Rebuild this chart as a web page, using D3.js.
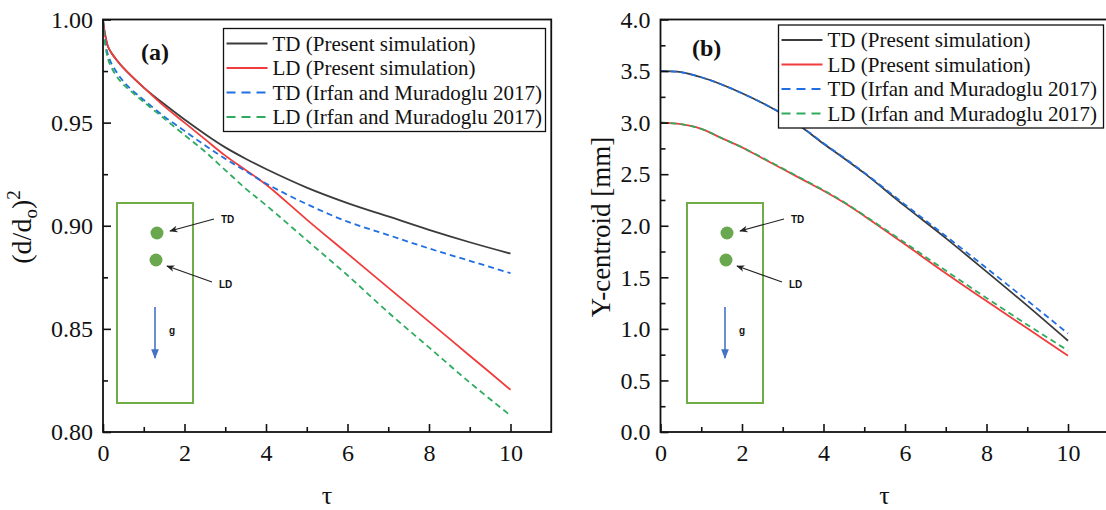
<!DOCTYPE html>
<html>
<head>
<meta charset="utf-8">
<script src="https://cdn.jsdelivr.net/npm/d3@7"></script>
<style>
  body { margin: 0; background: #fff; }
  svg { display: block; }
  text { font-family: "Liberation Serif", "Times New Roman", serif; fill: #111; }
  .note { font-family: "Liberation Sans", Arial, sans-serif; font-weight: bold; font-size: 10px; }
</style>
</head>
<body>
<svg id="chart" width="1106" height="510"></svg>
<script>
// series names (legend), same for both panels
var seriesNames = ["TD (Present simulation)", "LD (Present simulation)",
                   "TD (Irfan and Muradoglu 2017)", "LD (Irfan and Muradoglu 2017)"];
var seriesColors = ["#3b3b3b", "#f03c3c", "#1f6fe0", "#2fab5f"];
var seriesDashed = [false, false, true, true];

// panel (a): (d/do)^2 vs tau
var tauA   = [0, 0.04, 0.12, 0.2, 0.35, 0.5, 0.7, 1, 1.5, 2, 2.5, 3, 3.5, 4, 5, 6, 7, 8, 9, 10];
var tdSimA = [1.0, 0.994, 0.987, 0.984, 0.980, 0.9765, 0.9725, 0.967, 0.959, 0.9515, 0.9445, 0.938, 0.9325, 0.9275, 0.9185, 0.911, 0.9045, 0.898, 0.892, 0.8865];
var ldSimA = [1.0, 0.994, 0.987, 0.984, 0.980, 0.9765, 0.9725, 0.967, 0.958, 0.950, 0.942, 0.934, 0.927, 0.920, 0.903, 0.8865, 0.870, 0.8535, 0.837, 0.8205];
var tdRefA = [1.0, 0.991, 0.983, 0.979, 0.974, 0.970, 0.966, 0.961, 0.953, 0.946, 0.939, 0.9325, 0.9265, 0.9205, 0.9105, 0.902, 0.8955, 0.889, 0.883, 0.877];
var ldRefA = [1.0, 0.990, 0.981, 0.977, 0.972, 0.9685, 0.965, 0.960, 0.952, 0.944, 0.936, 0.927, 0.918, 0.910, 0.893, 0.876, 0.858, 0.841, 0.824, 0.808];
var yTicksA = [0.80, 0.85, 0.90, 0.95, 1.00];

// panel (b): Y-centroid vs tau
var tauB   = [0, 0.5, 1, 1.5, 2, 2.5, 3, 3.5, 4, 4.5, 5, 6, 7, 8, 9, 10];
var tdSimB = [3.5, 3.49, 3.44, 3.37, 3.285, 3.19, 3.08, 2.945, 2.795, 2.655, 2.51, 2.19, 1.88, 1.555, 1.225, 0.885];
var ldSimB = [3.0, 2.985, 2.94, 2.85, 2.76, 2.655, 2.55, 2.445, 2.34, 2.225, 2.095, 1.82, 1.54, 1.27, 1.005, 0.74];
var tdRefB = [3.5, 3.49, 3.44, 3.37, 3.285, 3.19, 3.085, 2.95, 2.80, 2.66, 2.515, 2.205, 1.90, 1.59, 1.275, 0.955];
var ldRefB = [3.0, 2.985, 2.94, 2.85, 2.76, 2.66, 2.555, 2.45, 2.345, 2.23, 2.10, 1.835, 1.565, 1.30, 1.04, 0.79];
var yTicksB = [0, 0.5, 1, 1.5, 2, 2.5, 3, 3.5, 4];

var xTicks = [0, 2, 4, 6, 8, 10];
var xMinor = [1, 3, 5, 7, 9];

var svg = d3.select("#chart");

// arrow heads for the inset sketch
var defs = svg.append("defs");
defs.append("marker").attr("id", "ahBlack")
    .attr("viewBox", "0 0 10 10").attr("refX", 9).attr("refY", 5)
    .attr("markerWidth", 7).attr("markerHeight", 7).attr("orient", "auto")
    .append("path").attr("d", "M0,1 L10,5 L0,9 L3,5 z").attr("fill", "#222");
defs.append("marker").attr("id", "ahBlue")
    .attr("viewBox", "0 0 10 10").attr("refX", 9).attr("refY", 5)
    .attr("markerWidth", 6).attr("markerHeight", 6).attr("orient", "auto")
    .append("path").attr("d", "M0,1 L10,5 L0,9 z").attr("fill", "#4472c4");

function drawPanel(p) {
    var x = d3.scaleLinear().domain([0, 11]).range([p.left, p.left + 11 * 40.75]);
    var y = d3.scaleLinear().domain(p.yDomain).range([432, 19.5]);
    var g = svg.append("g");

    // curves
    var line = d3.line().x(function(d) { return x(d[0]); }).y(function(d) { return y(d[1]); })
                 .curve(d3.curveCatmullRom.alpha(0.5));
    p.series.forEach(function(vals, i) {
        var pts = p.tau.map(function(t, j) { return [t, vals[j]]; });
        g.append("path").datum(pts)
         .attr("d", line)
         .attr("fill", "none")
         .attr("stroke", seriesColors[i])
         .attr("stroke-width", 1.8)
         .attr("stroke-dasharray", seriesDashed[i] ? "6,4" : null);
    });

    // axes, ticks inside
    g.append("g").attr("transform", "translate(0,432)")
        .call(d3.axisBottom(x).tickValues(xTicks).tickSize(-8).tickPadding(12).tickFormat(d3.format("d")));
    g.append("g").attr("transform", "translate(0,432)")
        .call(d3.axisBottom(x).tickValues(xMinor).tickSize(-5).tickFormat(""));
    g.append("g").attr("transform", "translate(" + x(0) + ",0)")
        .call(d3.axisLeft(y).tickValues(p.yTicks).tickSize(-8).tickPadding(10).tickFormat(d3.format(p.fmt)));
    g.append("g").attr("transform", "translate(" + x(0) + ",0)")
        .call(d3.axisLeft(y).tickValues(p.yMinor).tickSize(-5).tickFormat(""));
    g.selectAll(".domain").remove();
    g.selectAll(".tick line").attr("stroke", "#111").attr("stroke-width", 1.6);
    g.selectAll(".tick text").attr("font-size", 24).attr("font-family", "Liberation Serif").attr("fill", "#111");

    // frame
    g.append("rect").attr("x", x(0)).attr("y", y(p.yDomain[1]))
     .attr("width", x(11) - x(0)).attr("height", y(p.yDomain[0]) - y(p.yDomain[1]))
     .attr("fill", "none").attr("stroke", "#111").attr("stroke-width", 1.8);

    // axis titles
    g.append("text").attr("x", x(0) + 224).attr("y", 504)
     .attr("text-anchor", "middle").attr("font-size", 26).text("\u03c4");
    var yl = g.append("text")
        .attr("transform", "translate(" + p.yLabelX + ",227) rotate(-90)")
        .attr("text-anchor", "middle").attr("font-size", p.yLabelSize);
    p.yLabel(yl);

    // panel tag
    g.append("text").attr("x", p.tag[1]).attr("y", p.tag[2])
     .attr("font-size", 24).attr("font-weight", "bold").text(p.tag[0]);

    // legend
    var lg = g.append("g").attr("transform", "translate(" + p.legend[0] + "," + p.legend[1] + ")");
    lg.append("rect").attr("width", p.legend[2]).attr("height", 103)
      .attr("fill", "#fff").attr("stroke", "#111").attr("stroke-width", 1.3);
    seriesNames.forEach(function(name, i) {
        var ry = 15 + i * 24.5;
        lg.append("line").attr("x1", 3).attr("x2", 44).attr("y1", ry).attr("y2", ry)
          .attr("stroke", seriesColors[i]).attr("stroke-width", 2)
          .attr("stroke-dasharray", seriesDashed[i] ? "9,6" : null);
        lg.append("text").attr("x", 49).attr("y", ry).attr("dy", "0.34em")
          .attr("font-size", 21).text(name);
    });

    // inset sketch: drops in a channel with gravity arrow
    var ix = x(0) + p.inset, s = g.append("g").attr("transform", "translate(" + ix + ",203)");
    s.append("rect").attr("width", 76).attr("height", 200)
     .attr("fill", "none").attr("stroke", "#70ad47").attr("stroke-width", 2);
    s.append("circle").attr("cx", 40).attr("cy", 30).attr("r", 6.5).attr("fill", "#6aa84f");
    s.append("circle").attr("cx", 39).attr("cy", 57).attr("r", 6.5).attr("fill", "#6aa84f");
    s.append("line").attr("x1", 97).attr("y1", 16).attr("x2", 53).attr("y2", 28)
     .attr("stroke", "#222").attr("stroke-width", 1.2).attr("marker-end", "url(#ahBlack)");
    s.append("line").attr("x1", 95).attr("y1", 79).attr("x2", 50).attr("y2", 63)
     .attr("stroke", "#222").attr("stroke-width", 1.2).attr("marker-end", "url(#ahBlack)");
    s.append("text").attr("class", "note").attr("x", 104).attr("y", 20).text("TD");
    s.append("text").attr("class", "note").attr("x", 102).attr("y", 85).text("LD");
    s.append("line").attr("x1", 38).attr("y1", 104).attr("x2", 38).attr("y2", 155)
     .attr("stroke", "#4472c4").attr("stroke-width", 1.6).attr("marker-end", "url(#ahBlue)");
    s.append("text").attr("class", "note").attr("x", 52).attr("y", 131).text("g");
}

drawPanel({
    left: 103, yDomain: [0.8, 1.0], yTicks: yTicksA,
    yMinor: [0.825, 0.875, 0.925, 0.975], fmt: ".2f",
    tau: tauA, series: [tdSimA, ldSimA, tdRefA, ldRefA],
    yLabelX: 31, yLabelSize: 28,
    yLabel: function(t) {
        t.append("tspan").text("(d/d");
        t.append("tspan").attr("font-size", 19).attr("dy", 6).text("o");
        t.append("tspan").attr("dy", -6).text(")");
        t.append("tspan").attr("font-size", 19).attr("dy", -11).text("2");
    },
    tag: ["(a)", 141, 60],
    legend: [223.5, 28.5, 322],
    inset: 14
});

drawPanel({
    left: 660.5, yDomain: [0, 4], yTicks: yTicksB,
    yMinor: [0.25, 0.75, 1.25, 1.75, 2.25, 2.75, 3.25, 3.75], fmt: ".1f",
    tau: tauB, series: [tdSimB, ldSimB, tdRefB, ldRefB],
    yLabelX: 610, yLabelSize: 27,
    yLabel: function(t) { t.text("Y-centroid [mm]"); },
    tag: ["(b)", 692, 56],
    legend: [778.5, 25, 325],
    inset: 26.5
});
</script>
</body>
</html>
